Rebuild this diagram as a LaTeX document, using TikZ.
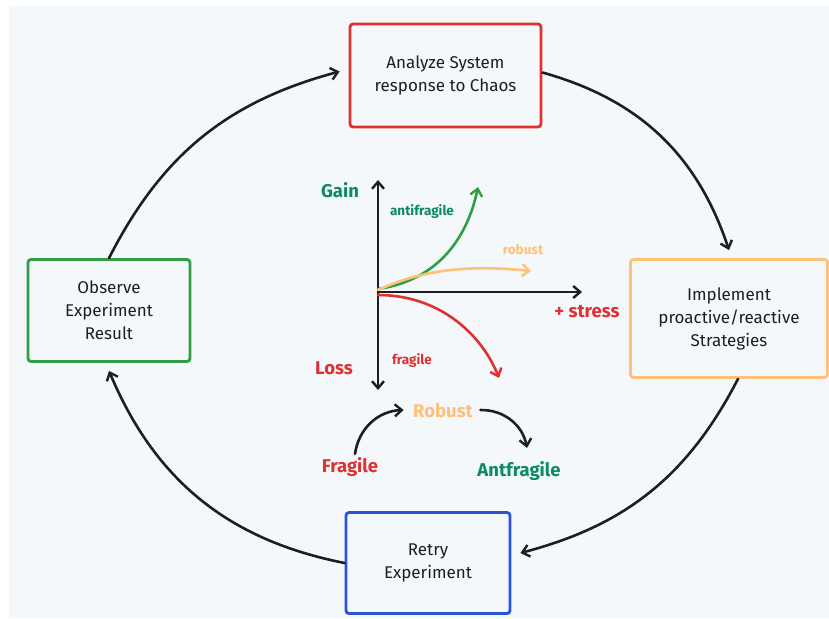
\documentclass[tikz,border=0pt]{standalone}
\usepackage{xcolor}
\usepackage{fontspec}
\setmainfont{Fira Sans}
\usepackage{tikz}
\usetikzlibrary{arrows.meta}

\definecolor{bgpaper}{HTML}{F5F8FB}
\definecolor{boxred}{HTML}{E03131}
\definecolor{boxorange}{HTML}{FFC078}
\definecolor{boxgreen}{HTML}{2F9E44}
\definecolor{boxblue}{HTML}{2B54D4}
\definecolor{txtteal}{HTML}{0C8A66}
\definecolor{txtdark}{HTML}{1E1E1E}

\tikzset{
  stage/.style={draw, line width=2.8pt, rounded corners=3pt, fill=bgpaper,
    align=center, text=txtdark, font=\fontsize{17}{23}\selectfont,
    minimum width=#1},
  tip/.style={-{Straight Barb[length=7pt,width=12pt,line width=2.4pt]}},
  flow/.style={draw=txtdark, line width=2.6pt, line cap=round, tip},
  big/.style={font=\fontsize{18.5}{20}\selectfont\bfseries},
  small/.style={font=\fontsize{13.5}{15}\selectfont\bfseries}
}

\begin{document}
\begin{tikzpicture}[x=1pt, y=-1pt]
\useasboundingbox (0,0) rectangle (829,618);
\fill[bgpaper] (9,6) rectangle (829,618);

\node[stage=191pt, minimum height=103pt, draw=boxred] (ana) at (445.5, 75.5) {Analyze System\\response to Chaos};
\node[stage=197pt, minimum height=118pt, draw=boxorange] (impl) at (729, 318.5) {Implement\\proactive/reactive\\Strategies};
\node[stage=162pt, minimum height=102pt, draw=boxgreen] (obs) at (109, 310.5) {Observe\\Experiment\\Result};
\node[stage=164pt, minimum height=101pt, draw=boxblue] (retry) at (428, 563) {Retry\\Experiment};

\draw[flow] (obs.north) to[bend left=24] ([xshift=-9pt, yshift=4pt]ana.west);
\draw[flow] ([yshift=3pt]ana.east) to[bend left=28] ([yshift=8pt]impl.north);
\draw[flow] ([xshift=9pt]impl.south) to[bend left=24] ([xshift=9pt, yshift=10pt]retry.east);
\draw[flow] (retry.west) to[bend left=28] ([yshift=-8pt]obs.south);

\coordinate (o) at (378, 292);
\coordinate (top) at (378, 180);
\coordinate (bot) at (378, 390);
\coordinate (right) at (582, 292);
\draw[flow, {Straight Barb[length=7pt,width=12pt,line width=2.4pt]}-{Straight Barb[length=7pt,width=12pt,line width=2.4pt]}] (bot) -- (top);
\draw[flow] (o) -- (right);

\coordinate (g0) at (378, 289);
\coordinate (g1) at (478, 187);
\coordinate (r0) at (378, 290);
\coordinate (r1) at (531, 271);
\coordinate (f0) at (378, 295);
\coordinate (f1) at (499, 378);
\draw[flow, draw=boxgreen] (g0) .. controls (440, 280) and (468, 235) .. (g1);
\draw[flow, draw=boxorange] (r0) .. controls (430, 266) and (480, 266) .. (r1);
\draw[flow, draw=boxred] (f0) .. controls (440, 295) and (482, 335) .. (f1);

\node[big, text=txtteal] (gain) at (340, 190) {Gain};
\node[big, text=boxred] (loss) at (334, 368) {Loss};
\node[big, text=boxred] (stress) at (587, 312) {+ stress};
\node[small, text=txtteal] (lanti) at (422, 212) {antifragile};
\node[small, text=boxorange] (lrob) at (523, 249) {robust};
\node[small, text=boxred] (lfrag) at (412, 361) {fragile};

\node[big, text=boxorange] (rob) at (443, 411) {Robust};
\node[big, text=boxred] (frag) at (350, 467) {Fragile};
\node[big, text=txtteal] (antf) at (519, 471) {Antfragile};
\draw[flow] ([xshift=5pt]frag.north) to[bend left=40] ([xshift=-6pt, yshift=1pt]rob.west);
\draw[flow] ([xshift=4pt, yshift=1pt]rob.east) to[bend left=40] ([xshift=8pt, yshift=10pt]antf.north);
\end{tikzpicture}
\end{document}
